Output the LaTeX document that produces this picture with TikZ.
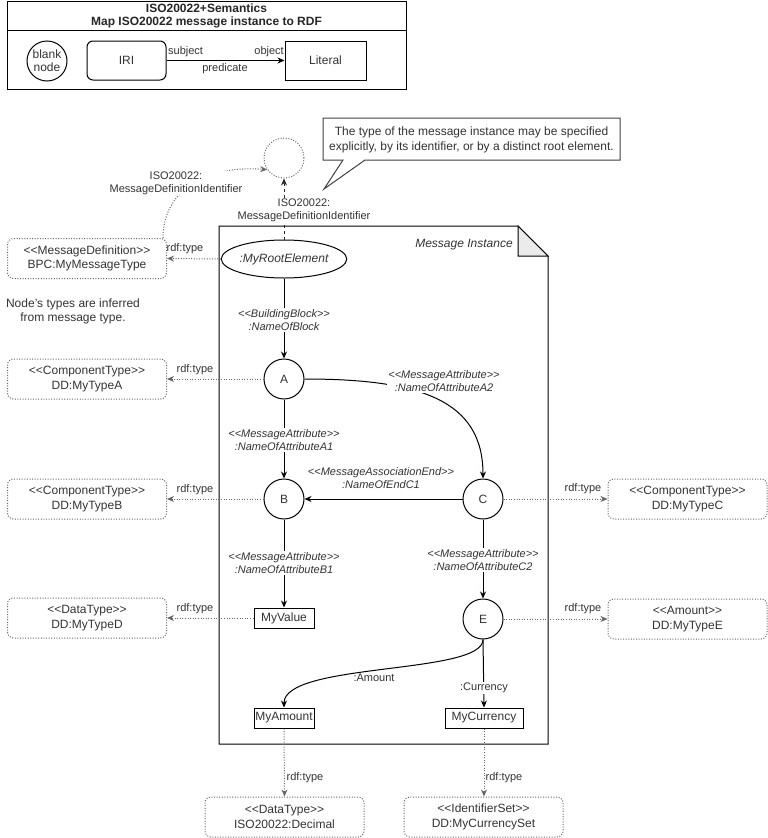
\documentclass[tikz,border=0pt]{standalone}
\usepackage{fontspec}
\setmainfont{Liberation Sans}
\usetikzlibrary{arrows.meta,shapes.geometric}
\newcommand{\fsA}{\fontsize{12}{14.5}\selectfont}
\newcommand{\fsB}{\fontsize{11}{13}\selectfont}
\newcommand{\stL}{<{}<}
\newcommand{\stR}{>{}>}
\tikzset{
  tip/.style={-{Stealth[length=7pt,width=6pt]}},
  solidarrow/.style={draw=black, line width=1pt, tip},
  dotline/.style={draw=black!60, line width=1pt, dash pattern=on 1pt off 1.6pt},
  dotarrow/.style={dotline, tip},
  dasharrow/.style={draw=black!85, line width=1pt, dash pattern=on 3pt off 3pt, tip},
  lbl/.style={font=\fsB, text=black!80, align=center, inner sep=1pt},
  ilbl/.style={lbl, font=\fsB\itshape, fill=white},
  circ/.style={circle, draw, line width=1pt, minimum size=40pt, inner sep=0pt, font=\fsA, text=black!80},
  lit/.style={rectangle, draw, line width=1pt, minimum width=60pt, minimum height=20pt, inner sep=1pt, font=\fsA, text=black!80},
  typebox/.style={rectangle, rounded corners=6pt, dotline, minimum width=159pt, minimum height=40pt, inner sep=1pt, align=center, font=\fsA, text=black!80},
}
\begin{document}
\begin{tikzpicture}[x=1pt,y=-1pt]
\useasboundingbox (0,0) rectangle (768,838);

% ---------------- legend ----------------
\draw[line width=1pt] (7,1) rectangle (406,89);
\draw[line width=1pt] (7,30) -- (406,30);
\node[font=\fontsize{12}{13}\selectfont\bfseries, align=center, text=black!85] (title) at (206.5,15.5) {ISO20022+Semantics\\Map ISO20022 message instance to RDF};
\node[circ, minimum size=40pt, align=center, font=\fontsize{12}{13}\selectfont] (lblank) at (47,61) {blank\\node};
\node[rectangle, rounded corners=6pt, draw, line width=1pt, minimum width=79pt, minimum height=39pt, font=\fsA, text=black!80] (liri) at (126.5,60.5) {IRI};
\node[rectangle, draw, line width=1pt, minimum width=81pt, minimum height=39pt, font=\fsA, text=black!80] (llit) at (325.5,60.5) {Literal};
\draw[solidarrow] (liri.east) -- (llit.west);
\node[lbl, anchor=west] (lsubj) at (167,52) {subject};
\node[lbl, anchor=east] (lobj) at (285,52) {object};
\node[lbl] (lpred) at (225,69) {predicate};

% ---------------- callout ----------------
\draw[line width=1pt, draw=black!75, fill=white] (323,118) -- (620,118) -- (620,160) -- (365,160) -- (324,189) -- (343,160) -- (323,160) -- cycle;
\node[font=\fsA, text=black!80, align=center, inner sep=0pt] (note) at (471.5,140) {The type of the message instance may be specified\\explicitly, by its identifier, or by a distinct root element.};

% ---------------- message instance frame ----------------
\draw[line width=1pt] (219,226) -- (518,226) -- (548,256) -- (548,744) -- (219,744) -- cycle;
\draw[line width=1pt, fill=black!8] (518,226) -- (518,256) -- (548,256) -- cycle;
\node[font=\fsA\itshape, text=black!80] (mi) at (464,245) {Message Instance};

% ---------------- nodes ----------------
\node[circle, dotline, minimum size=40pt, inner sep=0pt] (mdid) at (284,158) {};
\node[ellipse, draw, line width=1pt, minimum width=97pt, minimum height=38pt, inner sep=0pt, font=\fsA\itshape, text=black!80] (root) at (284,259) {:MyRootElement};
\node[circ] (A) at (284,379) {A};
\node[circ] (B) at (284,499) {B};
\node[circ] (C) at (483,499) {C};
\node[circ] (E) at (483,619) {E};
\node[lit] (val) at (284,618) {MyValue};
\node[lit] (amt) at (284,718) {MyAmount};
\node[lit, minimum width=78pt] (cur) at (484,718) {MyCurrency};

\node[typebox] (bpc) at (87,258.5) {\stL MessageDefinition\stR\\BPC:MyMessageType};
\node[typebox] (tA) at (87,379) {\stL ComponentType\stR\\DD:MyTypeA};
\node[typebox] (tB) at (87,499) {\stL ComponentType\stR\\DD:MyTypeB};
\node[typebox] (tD) at (87,618) {\stL DataType\stR\\DD:MyTypeD};
\node[typebox] (tC) at (687.5,499) {\stL ComponentType\stR\\DD:MyTypeC};
\node[typebox] (tE) at (687.5,619) {\stL Amount\stR\\DD:MyTypeE};
\node[typebox] (tDec) at (284.5,817) {\stL DataType\stR\\ISO20022:Decimal};
\node[typebox] (tCur) at (483.5,817) {\stL IdentifierSet\stR\\DD:MyCurrencySet};

\node[font=\fsA, text=black!80, align=center, inner sep=0pt] (infer) at (73,311.5) {Node's types are inferred\\from message type.};

% ---------------- identifier arrows ----------------
\draw[dotarrow] ([xshift=-4pt]bpc.north east) .. controls (163,185) and (215,165) .. (mdid.215);
\node[lbl, fill=white] (lid1) at (176,183) {ISO20022:\\MessageDefinitionIdentifier};
\draw[dasharrow] (root.north) -- (mdid.south);
\node[lbl, fill=white] (lid2) at (304,210) {ISO20022:\\MessageDefinitionIdentifier};

% ---------------- rdf:type arrows ----------------
\draw[dotarrow] (root.west) -- (bpc.east);
\node[lbl] (r0) at (185,249) {rdf:type};
\draw[dotarrow] (A.west) -- (tA.east);
\node[lbl] (r1) at (195,370) {rdf:type};
\draw[dotarrow] (B.west) -- (tB.east);
\node[lbl] (r2) at (195,490) {rdf:type};
\draw[dotarrow] (val.west) -- (tD.east);
\node[lbl] (r3) at (195,609) {rdf:type};
\draw[dotarrow] (C.east) -- (tC.west);
\node[lbl] (r4) at (583,489) {rdf:type};
\draw[dotarrow] (E.east) -- (tE.west);
\node[lbl] (r5) at (583,609) {rdf:type};
\draw[dotarrow] (amt.south) -- (tDec.north);
\node[lbl] (r6) at (305,778) {rdf:type};
\draw[dotarrow] (cur.south) -- (tCur.north -| cur.south);
\node[lbl] (r7) at (504,778) {rdf:type};

% ---------------- structural edges ----------------
\draw[solidarrow] (root.south) -- (A.north);
\node[ilbl] (e1) at (284,320) {\stL BuildingBlock\stR\\:NameOfBlock};
\draw[solidarrow] (A.south) -- (B.north);
\node[ilbl] (e2) at (284,440) {\stL MessageAttribute\stR\\:NameOfAttributeA1};
\draw[solidarrow] (A.east) .. controls (420,379) and (483,400) .. (C.north);
\node[ilbl] (e3) at (444,381) {\stL MessageAttribute\stR\\:NameOfAttributeA2};
\draw[solidarrow] (C.west) -- (B.east);
\node[ilbl] (e4) at (381,478) {\stL MessageAssociationEnd\stR\\:NameOfEndC1};
\draw[solidarrow] (B.south) -- (val.north);
\node[ilbl] (e5) at (284,563) {\stL MessageAttribute\stR\\:NameOfAttributeB1};
\draw[solidarrow] (C.south) -- (E.north);
\node[ilbl] (e6) at (483,560) {\stL MessageAttribute\stR\\:NameOfAttributeC2};
\draw[solidarrow] (E.south) .. controls (483,675) and (284,662) .. (amt.north);
\node[lbl] (e7) at (374,678) {:Amount};
\draw[solidarrow] (E.south) -- (cur.north);
\node[lbl, fill=white] (e8) at (484,688) {:Currency};
\end{tikzpicture}
\end{document}
